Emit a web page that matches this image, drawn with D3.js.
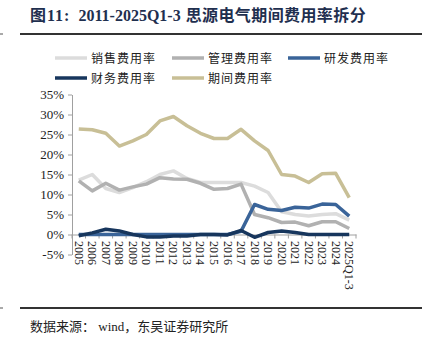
<!DOCTYPE html>
<html>
<head>
<meta charset="utf-8">
<script src="https://cdn.jsdelivr.net/npm/d3@7"></script>
<style>
  body { margin: 0; background: #fff; }
  svg text { font-family: "Liberation Serif", "Noto Sans CJK SC", serif; }
</style>
</head>
<body>
<div id="chart"></div>
<script>
const years = ["2005","2006","2007","2008","2009","2010","2011","2012","2013","2014","2015",
               "2016","2017","2018","2019","2020","2021","2022","2023","2024","2025Q1-3"];

const sales     = [13.6, 15.0, 11.5, 10.5, 11.7, 13.2, 15.0, 15.9, 14.0, 13.0, 13.0, 13.0, 13.0, 12.1, 10.5, 5.7, 5.0, 4.6, 5.0, 5.2, 3.6];
const admin     = [13.4, 10.9, 12.8, 11.1, 11.9, 12.6, 14.2, 13.9, 13.8, 12.8, 11.3, 11.5, 12.6, 5.0, 4.2, 3.0, 3.1, 2.2, 3.2, 3.2, 1.5];
const rnd       = [0, 0, 0, 0, 0, 0, 0, 0, 0, 0, 0, 0, 0.8, 7.5, 6.3, 6.0, 6.8, 6.6, 7.6, 7.5, 4.6];
const finance   = [-0.3, 0.4, 1.3, 0.9, 0.0, -0.6, -0.6, -0.4, -0.4, 0.0, 0.0, -0.1, 1.0, -0.7, 0.5, 0.9, 0.5, 0.0, 0.0, 0.0, 0.0];
const period    = [26.4, 26.2, 25.3, 22.1, 23.4, 25.0, 28.4, 29.5, 27.2, 25.3, 24.0, 24.0, 26.3, 23.4, 21.0, 15.0, 14.6, 13.0, 15.2, 15.3, 9.2];

const yTicks = [-5, 0, 5, 10, 15, 20, 25, 30, 35];

const series = [
  {name: "销售费用率", values: sales,   color: "#dcdcdc"},
  {name: "管理费用率", values: admin,   color: "#b1b1b1"},
  {name: "研发费用率", values: rnd,     color: "#3a6499"},
  {name: "财务费用率", values: finance, color: "#17365d"},
  {name: "期间费用率", values: period,  color: "#c8bf96"}
];
// drawing order: rnd under finance
const drawOrder = [0, 1, 2, 4, 3];

const svgWidth = 428, svgHeight = 351;
const svg = d3.select("#chart").append("svg")
    .attr("width", svgWidth).attr("height", svgHeight);

// title
const title = svg.append("text")
    .attr("x", 30).attr("y", 21)
    .attr("font-size", 16).attr("font-weight", "bold")
    .attr("fill", "#1f2f4f");
title.append("tspan").attr("letter-spacing", 1).text("图11: ");
title.append("tspan").attr("dx", 3).style("font-family", "'Liberation Serif'").text("2011-2025Q1-3");
title.append("tspan").attr("dx", 5).attr("letter-spacing", 0.4)
    .style("font-family", "'Noto Sans CJK SC'").text("思源电气期间费用率拆分");
svg.append("line")
    .attr("x1", 20).attr("x2", 422).attr("y1", 34).attr("y2", 34)
    .attr("stroke", "#333").attr("stroke-width", 1.8);
svg.append("line")
    .attr("x1", 0).attr("x2", 3).attr("y1", 34).attr("y2", 34)
    .attr("stroke", "#555").attr("stroke-width", 1);

// legend
const legendPos = [[55, 58], [172, 58], [288, 58], [55, 78], [172, 78]];
series.forEach((s, i) => {
  const [lx, ly] = legendPos[i];
  const lg = svg.append("g").attr("transform", `translate(${lx},${ly})`);
  lg.append("line").attr("x1", 0).attr("x2", 32).attr("y1", 0).attr("y2", 0)
    .attr("stroke", s.color).attr("stroke-width", 3.5);
  lg.append("text").attr("x", 36).attr("y", 4.5)
    .attr("font-size", 12).attr("fill", "#222")
    .attr("letter-spacing", 1)
    .style("font-family", "'Noto Sans CJK SC'")
    .text(s.name);
});

// plot
const x = d3.scaleBand().domain(years).range([72, 356]);
const y = d3.scaleLinear().domain([-5, 35]).range([254.5, 94.5]);

// y axis
const yAxis = svg.append("g")
    .attr("transform", "translate(72,0)")
    .call(d3.axisLeft(y).tickValues(yTicks).tickFormat(d => d + "%").tickSize(4).tickSizeOuter(0));
yAxis.select(".domain").attr("stroke", "#a0a0a0");
yAxis.selectAll(".tick line").attr("stroke", "#a0a0a0");
yAxis.selectAll("text").attr("font-size", 13).attr("fill", "#222")
    .style("font-family", "'Liberation Serif'").attr("x", -8);

// x axis at 0%
const xAxis = svg.append("g")
    .attr("transform", `translate(0,${y(0)})`)
    .call(d3.axisBottom(x).tickSize(0).tickSizeOuter(0));
xAxis.select(".domain").attr("stroke", "#a0a0a0");
xAxis.selectAll(".tick text").remove();
// boundary ticks
svg.append("g").selectAll("line")
  .data(years.concat(["end"]))
  .join("line")
    .attr("x1", (d, i) => 72 + i * x.step()).attr("x2", (d, i) => 72 + i * x.step())
    .attr("y1", y(0)).attr("y2", y(0) + 4)
    .attr("stroke", "#a0a0a0");

// x labels (rotated) below plot area
svg.append("g").selectAll("text")
  .data(years)
  .join("text")
    .attr("transform", d => `translate(${x(d) + x.bandwidth() / 2 - 4},241) rotate(90)`)
    .attr("font-size", 12).attr("fill", "#222")
    .style("font-family", "'Liberation Serif'")
    .text(d => d);

// lines
const line = d3.line()
    .x((d, i) => x(years[i]) + x.bandwidth() / 2)
    .y(d => y(d))
    .curve(d3.curveLinear);

svg.append("g").selectAll("path")
  .data(drawOrder.map(i => series[i]))
  .join("path")
    .attr("fill", "none")
    .attr("stroke", d => d.color)
    .attr("stroke-width", 3.5)
    .attr("stroke-linejoin", "round")
    .attr("d", d => line(d.values));

// bottom rule and source
svg.append("line")
    .attr("x1", 20).attr("x2", 422).attr("y1", 308).attr("y2", 308)
    .attr("stroke", "#333").attr("stroke-width", 1.8);
svg.append("line")
    .attr("x1", 0).attr("x2", 3).attr("y1", 308).attr("y2", 308)
    .attr("stroke", "#555").attr("stroke-width", 1);
svg.append("text")
    .attr("x", 30).attr("y", 331)
    .attr("font-size", 13).attr("fill", "#222")
    .style("font-family", "'Liberation Serif', 'Noto Sans CJK SC'")
    .text("数据来源： wind，东吴证券研究所");
</script>
</body>
</html>
